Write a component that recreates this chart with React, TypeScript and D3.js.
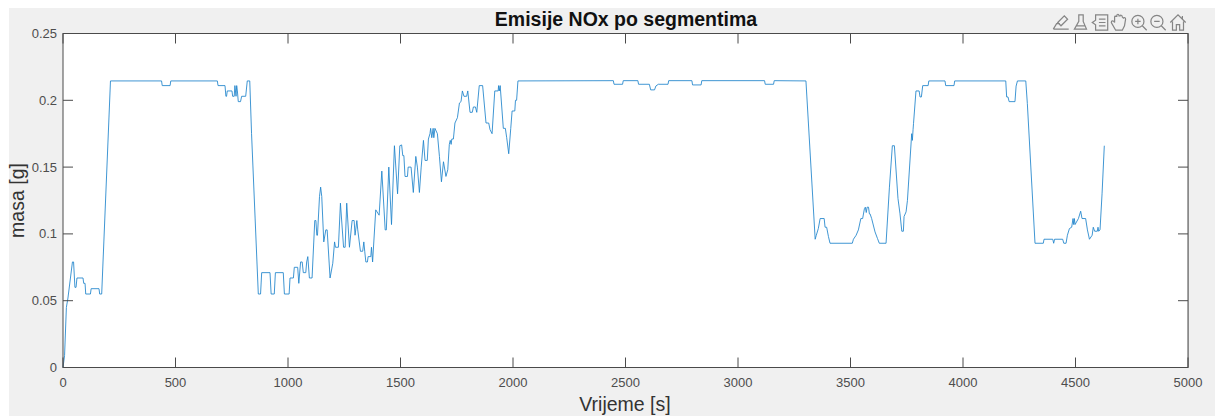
import React from "react";
import * as d3 from "d3";

const title = "Emisije NOx po segmentima";
const xLabel = "Vrijeme [s]";
const yLabel = "masa [g]";
const xTicks = [0, 500, 1000, 1500, 2000, 2500, 3000, 3500, 4000, 4500, 5000];
const yTicks = [0, 0.05, 0.1, 0.15, 0.2, 0.25];
const yTickLabels = ["0", "0.05", "0.1", "0.15", "0.2", "0.25"];

const timeA = [0,7,15,22,42,47,53,58,62,89,92,98,101,122,125,160,163,172,211,438,441,476,479,686,689,720,724,727,730,751,754,761,764,769,772,775,779,789,794,812,819,830,838,868,878,883,920,925,939,944,979,984,1005,1009,1024,1028,1043,1048,1056,1063,1068,1079,1083,1088,1095,1107,1119,1124,1128,1131,1140,1145,1150,1159,1168,1174,1187,1199,1207,1211,1224,1233,1247,1254,1261,1273,1285,1294,1298,1306,1310,1322,1332,1337,1341,1346,1353,1356,1368,1371,1376,1390,1405,1417,1432,1437,1448,1460,1473,1487,1497];
const massA = [0,0.009,0.045,0.052,0.079,0.079,0.06,0.06,0.067,0.067,0.063,0.063,0.055,0.055,0.059,0.059,0.055,0.055,0.2145,0.2145,0.211,0.211,0.2145,0.2145,0.211,0.211,0.203,0.203,0.207,0.207,0.203,0.203,0.211,0.203,0.211,0.207,0.199,0.199,0.203,0.203,0.2145,0.2145,0.175,0.055,0.055,0.071,0.071,0.055,0.055,0.071,0.071,0.055,0.055,0.067,0.067,0.075,0.075,0.063,0.079,0.079,0.071,0.071,0.079,0.083,0.067,0.067,0.11,0.11,0.099,0.099,0.128,0.135,0.128,0.094,0.103,0.103,0.067,0.078,0.094,0.09,0.09,0.123,0.09,0.09,0.123,0.09,0.11,0.11,0.099,0.11,0.103,0.087,0.087,0.094,0.087,0.079,0.079,0.083,0.083,0.09,0.079,0.118,0.114,0.147,0.103,0.103,0.15,0.107,0.166,0.13,0.166];

const timeB = [1505,1510,1515,1520,1531,1534,1547,1557,1568,1575,1584,1592,1602,1609,1619,1624,1631,1634,1639,1645,1648,1653,1664,1673,1682,1691,1702,1710,1717,1721,1725,1728,1735,1742,1753,1762,1769,1775,1782,1794,1799,1809,1819,1824,1833,1839,1850,1865,1880,1892,1898,1907,1919,1934,1936,1939,1943,1957,1966,1972,1981,1990,1996,2008,2011,2016,2022];
const massB = [0.1666,0.1586,0.1586,0.143,0.143,0.15,0.15,0.131,0.158,0.15,0.131,0.15,0.17,0.155,0.155,0.171,0.175,0.179,0.172,0.179,0.172,0.179,0.175,0.158,0.139,0.154,0.143,0.148,0.167,0.17,0.167,0.171,0.171,0.183,0.187,0.198,0.199,0.207,0.203,0.203,0.207,0.191,0.191,0.195,0.195,0.191,0.211,0.211,0.183,0.183,0.178,0.175,0.207,0.207,0.211,0.207,0.211,0.179,0.179,0.172,0.16,0.179,0.192,0.192,0.2,0.2,0.2145];

const timeC = [2446,2449,2487,2490,2555,2558,2606,2612,2629,2635,2646,2689,2692,2795,2798,2836,2839,3118,3121,3158,3161,3302,3343,3348,3357,3365,3383,3387,3394,3402,3409,3508,3513,3525,3535,3546,3554,3562,3566,3570,3574,3580,3584,3587,3594,3609,3620,3628,3658,3673,3686,3695,3711,3720,3728,3735,3738,3747,3753,3772,3775,3778,3780,3791,3805,3809,3815,3821,3845,3848,3920,3923,3960,3963];
const massC = [0.2147,0.212,0.212,0.2147,0.2147,0.212,0.212,0.2078,0.2078,0.2107,0.212,0.212,0.2147,0.2147,0.2115,0.2115,0.2147,0.2147,0.212,0.212,0.2147,0.2145,0.096,0.099,0.104,0.1115,0.1115,0.105,0.105,0.098,0.093,0.093,0.096,0.099,0.103,0.1115,0.1115,0.119,0.12,0.116,0.12,0.12,0.115,0.115,0.1115,0.1015,0.0965,0.093,0.093,0.135,0.166,0.166,0.1265,0.115,0.102,0.102,0.113,0.1165,0.125,0.175,0.17,0.178,0.1825,0.207,0.207,0.2025,0.2025,0.211,0.211,0.2145,0.2145,0.211,0.211,0.2145];

const timeD = [4190,4194,4200,4205,4231,4236,4242,4279,4286,4320,4357,4360,4399,4403,4407,4443,4448,4458,4464,4473,4483,4489,4492,4495,4498,4513,4523,4529,4545,4553,4562,4574,4579,4585,4597,4600,4603,4609,4618,4628];
const massD = [0.2145,0.2025,0.2025,0.199,0.199,0.2106,0.2145,0.2145,0.1975,0.093,0.093,0.096,0.096,0.093,0.096,0.096,0.093,0.093,0.099,0.104,0.105,0.1115,0.107,0.1115,0.107,0.1115,0.117,0.1115,0.1115,0.103,0.096,0.099,0.105,0.102,0.102,0.105,0.102,0.103,0.13,0.166];

const times = [...timeA, ...timeB, ...timeC, ...timeD];
const masses = [...massA, ...massB, ...massC, ...massD];

const W = 1215, H = 419;
const x = d3.scaleLinear().domain([0, 5000]).range([63, 1188]);
const y = d3.scaleLinear().domain([0, 0.25]).range([367.5, 33.5]);
const line = d3.line<number>().x((_, i) => x(times[i])).y(d => y(d));
const FONT = "'Liberation Sans', Arial, Helvetica, sans-serif";
const AXIS = "#4a4a4a";
const ICON = "#858585";

const iconX = [1061, 1081, 1100, 1119, 1139, 1158, 1178];

function Icons() {
  return (
    <g fill="none" stroke={ICON} strokeWidth={1.1}>
      <g transform={`translate(${iconX[0]},22.5) scale(1.1)`}>
        <path d="M-7,6 H7 M-7,6 L-4,1 L-1,1 M-3,0 L3,-6 L6,-3 L0,3 Z" />
      </g>
      <g transform={`translate(${iconX[1]},22.5) scale(1.1)`}>
        <path d="M-2,-7 H2 V-1 L5,6 H-6 L-2,-1 Z M-4,3 H4" />
      </g>
      <g transform={`translate(${iconX[2]},22.5) scale(1.1)`}>
        <path d="M-4,-7 H7 V7 H-4 V2 L-7,0 L-4,-2 Z M-1,-3 H5 M-1,0 H5 M-1,3 H5" />
      </g>
      <g transform={`translate(${iconX[3]},22.5) scale(1.1)`}>
        <path d="M-3,7 L-7,0 C-7,-2 -5,-2 -4,0 L-4,-5 C-4,-6 -2,-6 -2,-5 L-2,-6 C-2,-8 0,-8 0,-6 L1,-6 C1,-7 3,-7 3,-5 L4,-4 C5,-5 6,-4 6,-3 L5,3 L3,7 Z" />
      </g>
      <g transform={`translate(${iconX[4]},22.5) scale(1.1)`}>
        <circle cx={-1} cy={-1} r={5.5} />
        <path d="M3,3 L7,7 M-3.5,-1 H1.5 M-1,-3.5 V1.5" />
      </g>
      <g transform={`translate(${iconX[5]},22.5) scale(1.1)`}>
        <circle cx={-1} cy={-1} r={5.5} />
        <path d="M3,3 L7,7 M-3.5,-1 H1.5" />
      </g>
      <g transform={`translate(${iconX[6]},22.5) scale(1.1)`}>
        <path d="M-7,0 L0,-7 L7,0 M-5,-1 V7 H-1.5 V2 H1.5 V7 H5 V-1 M4,-6 V-3" />
      </g>
    </g>
  );
}

export default function App() {
  const [x0, x1] = x.range();
  const [y0, y1] = y.range();
  return (
    <svg width={W} height={H} viewBox={`0 0 ${W} ${H}`}
      style={{ position: "absolute", left: 0, top: 0, display: "block" }} fontFamily={FONT}>
      <rect x={0} y={0} width={W} height={H} fill="#ffffff" />
      <rect x={9} y={8} width={W - 9} height={408} fill="#f0f0f0" />
      <rect x={x0} y={y1} width={x1 - x0} height={y0 - y1} fill="#ffffff" />

      <path d={line(masses) ?? ""} fill="none" stroke="#1f84cb" strokeWidth={1} strokeOpacity={0.85} strokeLinejoin="round" />

      <rect x={x0} y={y1} width={x1 - x0} height={y0 - y1} fill="none" stroke={AXIS} strokeWidth={1} />
      <line x1={x1 + 0.5} x2={x1 + 0.5} y1={y1} y2={y0} stroke="#8a8a8a" strokeWidth={1} />
      {xTicks.map(t => (
        <g key={t}>
          <line x1={x(t)} x2={x(t)} y1={y0} y2={y0 - 10} stroke={AXIS} />
          <line x1={x(t)} x2={x(t)} y1={y1} y2={y1 + 10} stroke={AXIS} />
          <text x={x(t)} y={387} textAnchor="middle" fontSize={13} fill="#4d4d4d">{t}</text>
        </g>
      ))}
      {yTicks.map((t, i) => (
        <g key={t}>
          <line x1={x0} x2={x0 + 10} y1={y(t)} y2={y(t)} stroke={AXIS} />
          <line x1={x1} x2={x1 - 10} y1={y(t)} y2={y(t)} stroke={AXIS} />
          <text x={57} y={y(t) + 4.5} textAnchor="end" fontSize={13} fill="#4d4d4d">{yTickLabels[i]}</text>
        </g>
      ))}

      <text x={626} y={26} textAnchor="middle" fontSize={19.5} fontWeight="bold" fill="#111">{title}</text>
      <text x={625} y={411} textAnchor="middle" fontSize={19.5} fill="#333">{xLabel}</text>
      <text transform="translate(24,200.5) rotate(-90)" textAnchor="middle" fontSize={19.5} fill="#333">{yLabel}</text>
      <Icons />
    </svg>
  );
}
